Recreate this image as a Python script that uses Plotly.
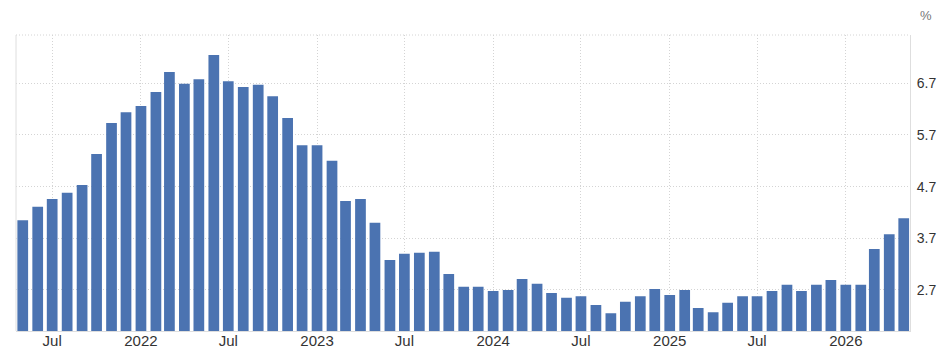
import pandas as pd
import plotly.graph_objects as go

months = pd.date_range("2021-05-01", periods=61, freq="MS")
values = [
    4.05, 4.31, 4.46, 4.58, 4.73, 5.33, 5.93, 6.14,              # 2021 May-Dec
    6.26, 6.53, 6.92, 6.69, 6.78, 7.25, 6.74, 6.63, 6.67, 6.45, 6.03, 5.50,  # 2022
    5.50, 5.20, 4.42, 4.46, 4.00, 3.28, 3.40, 3.42, 3.44, 3.01, 2.76, 2.76,  # 2023
    2.68, 2.70, 2.91, 2.82, 2.64, 2.55, 2.58, 2.41, 2.25, 2.47, 2.58, 2.72,  # 2024
    2.60, 2.70, 2.35, 2.27, 2.45, 2.58, 2.58, 2.68, 2.80, 2.68, 2.80, 2.89,  # 2025
    2.80, 2.80, 3.49, 3.78, 4.09,                                # 2026 Jan-May
]
tick_dates = ["2021-07-01", "2022-01-01", "2022-07-01", "2023-01-01", "2023-07-01",
              "2024-01-01", "2024-07-01", "2025-01-01", "2025-07-01", "2026-01-01"]
tick_labels = ["Jul", "2022", "Jul", "2023", "Jul", "2024", "Jul", "2025", "Jul", "2026"]
y_ticks = [2.7, 3.7, 4.7, 5.7, 6.7]
y_labels = ["2.7", "3.7", "4.7", "5.7", "6.7"]

GRID = "#d4d4d4"
LINE = "#dedede"

fig = go.Figure(go.Bar(
    x=months, y=values,
    marker=dict(color="#4b73b1", line=dict(width=0)),
    width=0.73 * 30.44 * 86400000,
    hoverinfo="x+y",
))

fig.update_layout(
    width=942, height=357,
    margin=dict(l=16, r=32, t=35, b=26),
    paper_bgcolor="white", plot_bgcolor="white",
    font=dict(family="Liberation Sans, Arial, sans-serif", color="#333333", size=14),
    showlegend=False,
    xaxis=dict(
        type="date",
        range=["2021-04-17", "2026-05-14"],
        tickvals=tick_dates, ticktext=tick_labels,
        showgrid=True, gridcolor=GRID, griddash="1px,2px", gridwidth=1,
        showline=True, linecolor=LINE, linewidth=1,
        ticks="", tickfont=dict(size=15, color="#333333"),
        ticklabelstandoff=-4,
        automargin=False,
        zeroline=False,
    ),
    yaxis=dict(
        side="right",
        range=[1.905, 7.635],
        tickvals=y_ticks, ticktext=y_labels,
        showgrid=True, gridcolor=GRID, griddash="1px,2px", gridwidth=1,
        showline=True, linecolor=LINE, linewidth=1,
        ticks="", tickfont=dict(size=14, color="#333333"),
        ticklabelstandoff=3,
        automargin=False,
        zeroline=False,
    ),
    shapes=[
        dict(type="line", xref="paper", yref="paper", x0=0, x1=1, y0=1, y1=1,
             line=dict(color=GRID, width=1, dash="1px,2px")),
        dict(type="line", xref="paper", yref="paper", x0=0, x1=0, y0=0, y1=1,
             line=dict(color=LINE, width=1)),
    ],
    annotations=[
        dict(text="%", xref="paper", yref="paper", x=1.0, y=1.0, xshift=16, yshift=20,
             showarrow=False, xanchor="center", yanchor="middle",
             font=dict(size=13, color="#777777")),
    ],
)

fig.write_html("out.html")
